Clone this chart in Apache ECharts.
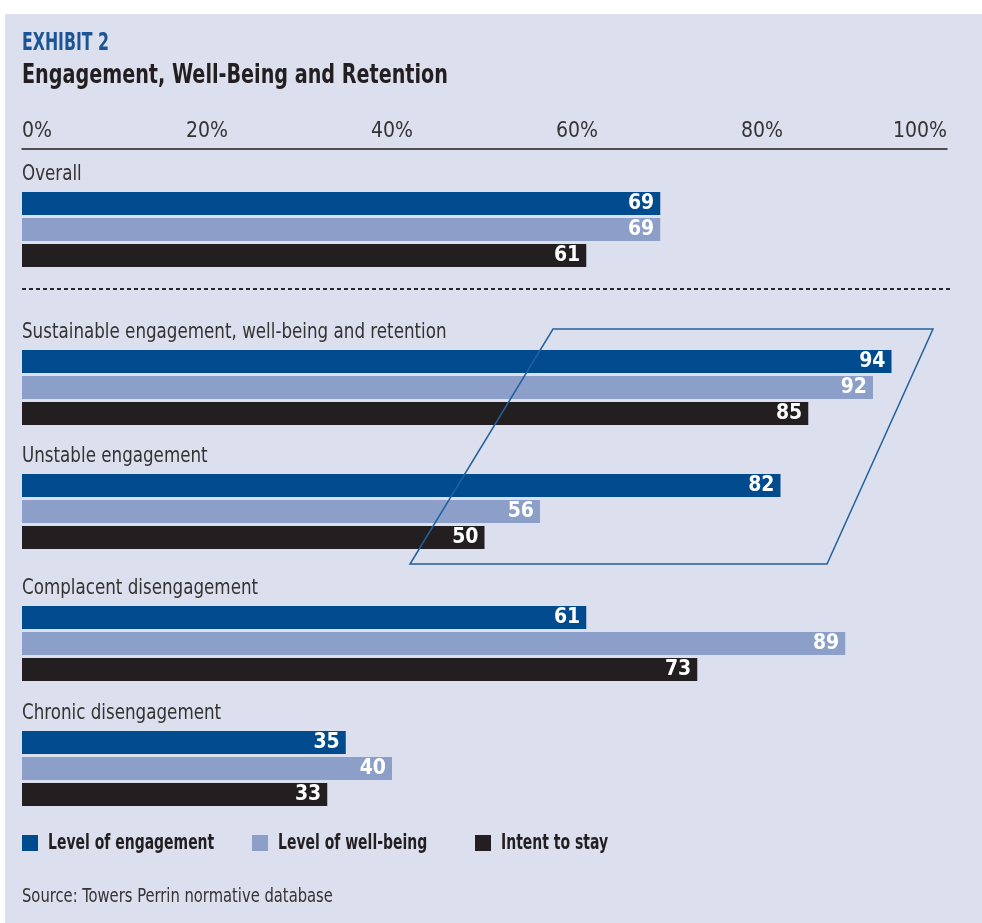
<!DOCTYPE html>
<html>
<head>
<meta charset="utf-8">
<script src="https://cdn.jsdelivr.net/npm/echarts@6/dist/echarts.min.js"></script>
<style>
  html, body { margin: 0; padding: 0; background: #ffffff; }
  #chart { width: 982px; height: 923px; }
</style>
</head>
<body>
<div id="chart"></div>
<script>
var groups = [
  "Overall",
  "Sustainable engagement, well-being and retention",
  "Unstable engagement",
  "Complacent disengagement",
  "Chronic disengagement",
];
var measures = ["Level of engagement", "Level of well-being", "Intent to stay"];
var engagement = [69, 94, 82, 61, 35];
var wellBeing = [69, 92, 56, 89, 40];
var intentToStay = [61, 85, 50, 73, 33];
var tickValues = [0, 20, 40, 60, 80, 100];

var colors = ["#004b8d", "#8b9fc8", "#231f20"];
var font = "'DejaVu Sans Condensed', 'Liberation Sans', sans-serif";
// top of the first bar of each block (px)
var blockTops = [192, 350, 474, 606, 731];
var values = [engagement, wellBeing, intentToStay];

// condensed text helper (no narrow font installed, so squeeze horizontally)
function narrowText(x, y, text, size, weight, color, sx, valign) {
  return {
    type: "text",
    silent: true,
    x: x,
    y: y,
    scaleX: sx,
    style: {
      text: text,
      fontFamily: font,
      fontSize: size,
      fontWeight: weight,
      fill: color,
      verticalAlign: valign || "middle",
    },
  };
}

var grids = [];
var xAxes = [];
var yAxes = [];
var series = [];
var graphics = [
  {
    type: "rect",
    z: -10,
    silent: true,
    shape: { x: 5, y: 14, width: 977, height: 909 },
    style: { fill: "#dcdfed" },
  },
  {
    type: "line",
    silent: true,
    shape: { x1: 22, y1: 289, x2: 950, y2: 289 },
    style: { stroke: "#2a2a2a", lineWidth: 2, lineDash: [4, 3] },
  },
  narrowText(22, 44, "EXHIBIT 2", 24, "bold", "#1c5596", 0.73),
  narrowText(22, 76, "Engagement, Well-Being and Retention", 26, "bold", "#231f20", 0.82),
  narrowText(22, 897, "Source: Towers Perrin normative database", 20, "normal", "#333333", 0.82),
];

for (var i = 0; i < groups.length; i++) {
  grids.push({ left: 22, right: 35, top: blockTops[i], height: 75 });
  xAxes.push({
    gridIndex: i,
    type: "value",
    min: 0,
    max: 100,
    interval: 20,
    show: i == 0,
    position: "top",
    offset: 43,
    axisLine: { show: true, lineStyle: { color: "#231f20", width: 1.5 } },
    axisTick: { show: false },
    splitLine: { show: false },
    axisLabel: {
      fontFamily: font,
      fontSize: 21,
      color: "#333333",
      margin: 7,
      alignMinLabel: "left",
      alignMaxLabel: "right",
      formatter: function (v) {
        return tickValues.indexOf(v) > -1 ? v + "%" : "";
      },
    },
  });
  yAxes.push({
    gridIndex: i,
    type: "category",
    data: [groups[i]],
    inverse: true,
    show: false,
  });
  for (var m = 0; m < measures.length; m++) {
    series.push({
      type: "bar",
      name: measures[m],
      xAxisIndex: i,
      yAxisIndex: i,
      data: [values[m][i]],
      barWidth: 23,
      barGap: "13%",
      itemStyle: { color: colors[m] },
      label: {
        show: true,
        position: "insideRight",
        distance: 6,
        color: "#ffffff",
        fontFamily: font,
        fontWeight: "bold",
        fontSize: 21,
      },
    });
  }
  // block title above the bars
  graphics.push(narrowText(22, blockTops[i] - 18, groups[i], 22, "normal", "#333333", 0.845));
}

// the outlined parallelogram around the middle blocks
graphics.push({
  type: "polygon",
  silent: true,
  z: 100,
  shape: { points: [[553, 329], [933, 329], [827, 564], [410, 564]] },
  style: { fill: null, stroke: "#22609f", lineWidth: 1.5 },
});

// legend keys
var legendLefts = [22, 252, 475];
for (var k = 0; k < measures.length; k++) {
  graphics.push({
    type: "rect",
    silent: true,
    shape: { x: legendLefts[k], y: 835, width: 16, height: 16 },
    style: { fill: colors[k] },
  });
  graphics.push(narrowText(legendLefts[k] + 26, 844, measures[k], 21, "bold", "#231f20", 0.74));
}

var chart = echarts.init(document.getElementById("chart"));
chart.setOption({
  backgroundColor: "#ffffff",
  animation: false,
  grid: grids,
  xAxis: xAxes,
  yAxis: yAxes,
  series: series,
  graphic: graphics,
});
</script>
</body>
</html>
